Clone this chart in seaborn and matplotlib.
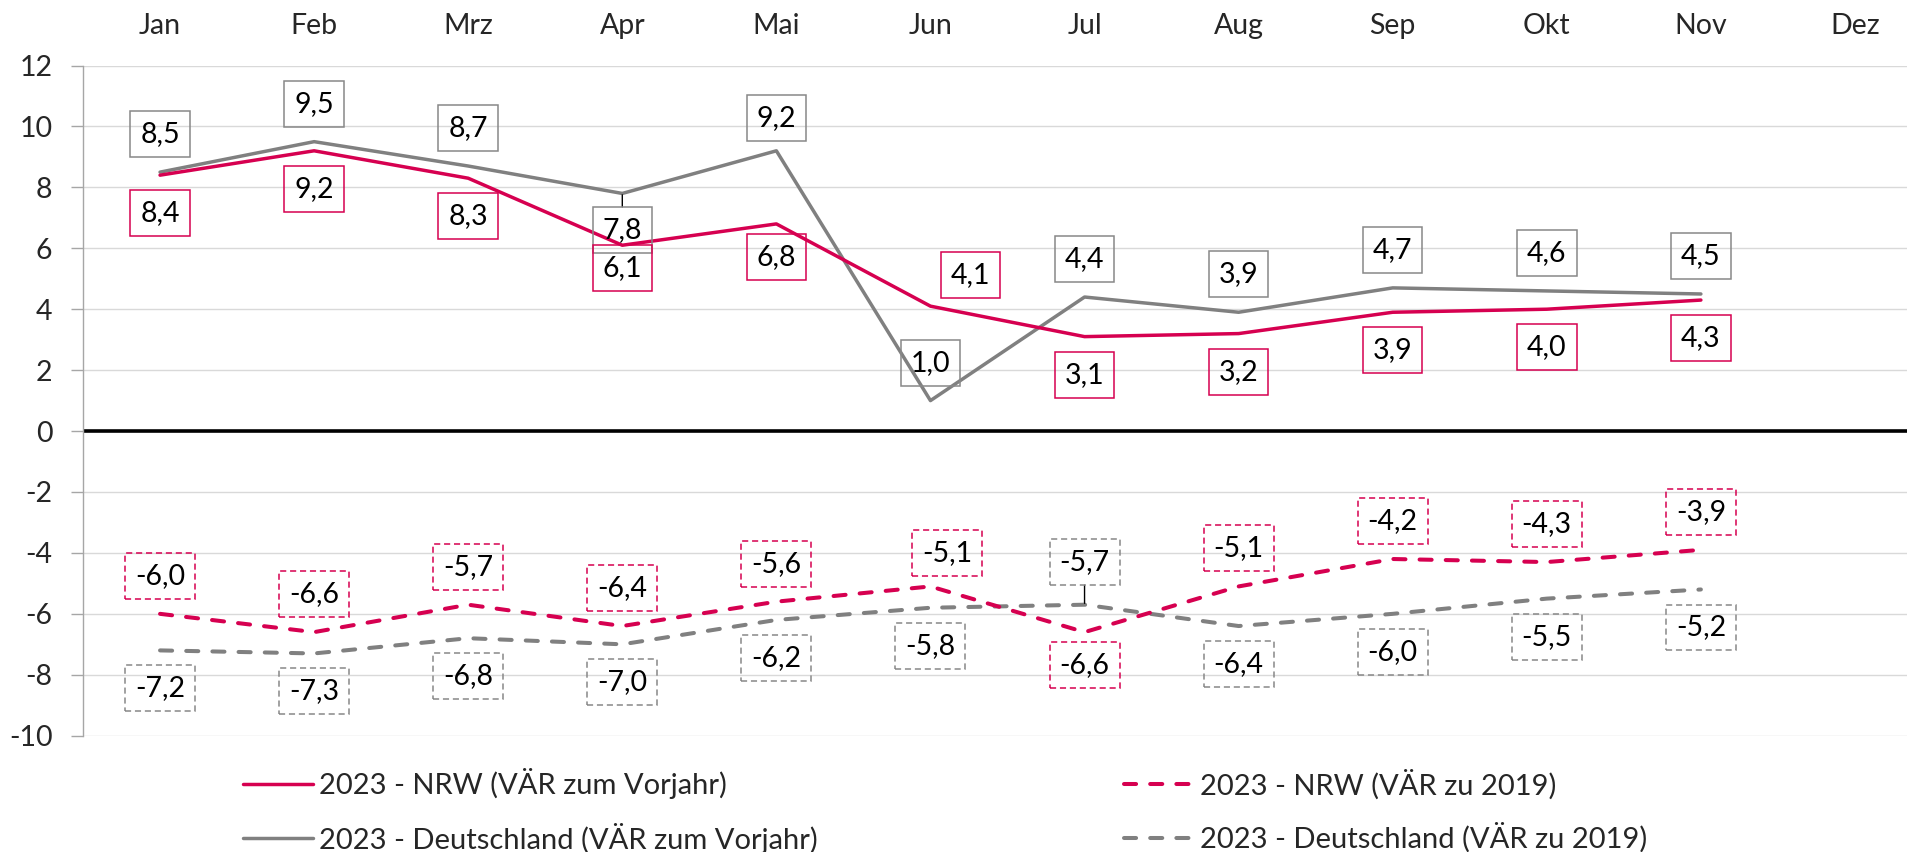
import matplotlib
matplotlib.use('Agg')
import matplotlib.pyplot as plt
import seaborn as sns
import pandas as pd

months = ['Jan', 'Feb', 'Mrz', 'Apr', 'Mai', 'Jun', 'Jul', 'Aug', 'Sep', 'Okt', 'Nov', 'Dez']
nrw_vorjahr = [8.4, 9.2, 8.3, 6.1, 6.8, 4.1, 3.1, 3.2, 3.9, 4.0, 4.3]
de_vorjahr = [8.5, 9.5, 8.7, 7.8, 9.2, 1.0, 4.4, 3.9, 4.7, 4.6, 4.5]
nrw_2019 = [-6.0, -6.6, -5.7, -6.4, -5.6, -5.1, -6.6, -5.1, -4.2, -4.3, -3.9]
de_2019 = [-7.2, -7.3, -6.8, -7.0, -6.2, -5.8, -5.7, -6.4, -6.0, -5.5, -5.2]

labels = {
    'nrw_vj': '2023 - NRW (VÄR zum Vorjahr)',
    'de_vj': '2023 - Deutschland (VÄR zum Vorjahr)',
    'nrw_19': '2023 - NRW (VÄR zu 2019)',
    'de_19': '2023 - Deutschland (VÄR zu 2019)',
}

CRIMSON = '#D60050'
GRAY = '#808080'
BOXGRAY = '#888888'

sns.set_style('white')
plt.rcParams['font.family'] = ['Lato', 'DejaVu Sans']
plt.rcParams['axes.unicode_minus'] = False

df = pd.DataFrame({
    'pos': range(len(nrw_vorjahr)),
    'nrw_vj': nrw_vorjahr,
    'de_vj': de_vorjahr,
    'nrw_19': nrw_2019,
    'de_19': de_2019,
})


def offsets(default, overrides):
    """Label offsets in pixels (dx, dy), default plus manual exceptions."""
    out = [(0, default)] * len(df)
    for i, o in overrides.items():
        out[i] = o
    return out


# label placement (pixels, like the manual Excel data labels)
off_de_vj = offsets(38, {3: (0, -37), 4: (0, 33)})
off_nrw_vj = offsets(-38, {3: (0, -23), 4: (0, -33), 5: (40, 31)})
off_nrw_19 = offsets(38, {5: (17, 33), 6: (0, -33)})
off_de_19 = offsets(-38, {6: (0, 43)})

fig = plt.figure(figsize=(19.08, 8.52), dpi=100)
ax = fig.add_axes([83 / 1908, 1 - 735.7 / 852, 1 - 83 / 1908, (735.7 - 65.5) / 852])

ax.axhline(0, color='black', lw=2.6, zorder=1)

sns.lineplot(data=df, x='pos', y='nrw_vj', color=CRIMSON, lw=2.5,
             label=labels['nrw_vj'], ax=ax, zorder=3)
sns.lineplot(data=df, x='pos', y='de_vj', color=GRAY, lw=2.5,
             label=labels['de_vj'], ax=ax, zorder=2)
sns.lineplot(data=df, x='pos', y='nrw_19', color=CRIMSON, lw=2.9,
             linestyle=(0, (3, 3.5)), dash_capstyle='round',
             label=labels['nrw_19'], ax=ax, zorder=3)
sns.lineplot(data=df, x='pos', y='de_19', color=GRAY, lw=2.9,
             linestyle=(0, (3, 3.5)), dash_capstyle='round',
             label=labels['de_19'], ax=ax, zorder=2)


def fmt(v):
    return f'{v:.1f}'.replace('.', ',')


def add_labels(col, offs, edge, dashed=False, leaders=()):
    for i, (x, v) in enumerate(zip(df['pos'], df[col])):
        bbox = dict(boxstyle='square,pad=0.35', fc='none', ec=edge, lw=1.1,
                    ls=(0, (4, 2.5)) if dashed else '-')
        arrow = None
        if i in leaders:
            arrow = dict(arrowstyle='-', color='black', lw=1, shrinkA=0, shrinkB=1)
        ax.annotate(fmt(v), (x, v), xytext=offs[i], textcoords='offset pixels',
                    ha='center', va='center', fontsize=20.5, color='black',
                    bbox=bbox, arrowprops=arrow, zorder=5)


add_labels('de_vj', off_de_vj, BOXGRAY, leaders=(3,))
add_labels('nrw_vj', off_nrw_vj, CRIMSON)
add_labels('nrw_19', off_nrw_19, CRIMSON, dashed=True)
add_labels('de_19', off_de_19, BOXGRAY, dashed=True, leaders=(6,))

ax.set_xlim(-0.5, 11.5 - 24 / 154)
ax.set_ylim(-10, 12)
ax.set_yticks(range(-10, 13, 2))
ax.set_yticklabels([str(t) for t in range(-10, 13, 2)])
ax.set_xticks(range(len(months)))
ax.set_xticklabels(months)
ax.xaxis.tick_top()
ax.tick_params(axis='x', length=0, pad=19, labelsize=20.5)
ax.tick_params(axis='y', left=True, length=9, width=1, color='#A6A6A6',
               pad=13, labelsize=20.5)
ax.set_xlabel('')
ax.set_ylabel('')
ax.grid(axis='y', color='#D9D9D9', lw=1)
for s in ['top', 'right', 'bottom']:
    ax.spines[s].set_visible(False)
ax.spines['left'].set_color('#A6A6A6')
ax.spines['left'].set_linewidth(1)

handles, labs = ax.get_legend_handles_labels()
ax.get_legend().remove()
order = [labels['nrw_vj'], labels['de_vj'], labels['nrw_19'], labels['de_19']]
hmap = dict(zip(labs, handles))
fig.legend([hmap[k] for k in order], order, loc='center left',
           bbox_to_anchor=(243 / 1908, 1 - 811 / 852), ncol=2, frameon=False,
           fontsize=21, handlelength=2.4, handletextpad=0.2,
           columnspacing=10.5, labelspacing=0.8, borderpad=0, borderaxespad=0)

plt.savefig('out.png', dpi=100)
plt.close()
